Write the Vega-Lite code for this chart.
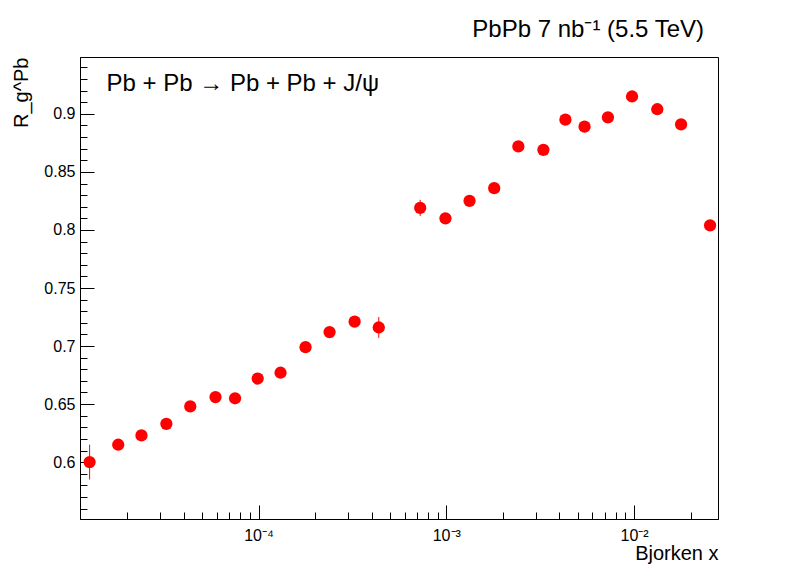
{
  "$schema": "https://vega.github.io/schema/vega-lite/v6.json",
  "autosize": "none",
  "width": 638,
  "height": 462,
  "padding": {"left": 80, "top": 57, "right": 80, "bottom": 57},
  "background": "white",
  "config": {
    "font": "Liberation Sans",
    "view": {"stroke": "black", "strokeWidth": 1}
  },
  "title": {
    "text": "PbPb 7 nb⁻¹ (5.5 TeV)",
    "anchor": "end",
    "fontSize": 24,
    "fontWeight": "normal",
    "font": "Liberation Sans",
    "offset": 15,
    "dx": -14
  },
  "data": {
    "values": [
      {"x": 1.26e-5, "r": 0.600, "lo": 0.585, "hi": 0.615},
      {"x": 1.79e-5, "r": 0.615, "lo": 0.613, "hi": 0.617},
      {"x": 2.38e-5, "r": 0.623, "lo": 0.621, "hi": 0.625},
      {"x": 3.23e-5, "r": 0.633, "lo": 0.631, "hi": 0.635},
      {"x": 4.33e-5, "r": 0.648, "lo": 0.646, "hi": 0.650},
      {"x": 5.9e-5, "r": 0.656, "lo": 0.654, "hi": 0.658},
      {"x": 7.5e-5, "r": 0.655, "lo": 0.653, "hi": 0.657},
      {"x": 9.9e-5, "r": 0.672, "lo": 0.670, "hi": 0.674},
      {"x": 1.31e-4, "r": 0.677, "lo": 0.675, "hi": 0.679},
      {"x": 1.78e-4, "r": 0.699, "lo": 0.697, "hi": 0.701},
      {"x": 2.39e-4, "r": 0.712, "lo": 0.710, "hi": 0.714},
      {"x": 3.25e-4, "r": 0.721, "lo": 0.719, "hi": 0.723},
      {"x": 4.37e-4, "r": 0.716, "lo": 0.707, "hi": 0.725},
      {"x": 7.26e-4, "r": 0.819, "lo": 0.812, "hi": 0.826},
      {"x": 9.9e-4, "r": 0.810, "lo": 0.808, "hi": 0.812},
      {"x": 1.33e-3, "r": 0.825, "lo": 0.823, "hi": 0.827},
      {"x": 1.80e-3, "r": 0.836, "lo": 0.834, "hi": 0.838},
      {"x": 2.42e-3, "r": 0.872, "lo": 0.870, "hi": 0.874},
      {"x": 3.29e-3, "r": 0.869, "lo": 0.867, "hi": 0.871},
      {"x": 4.31e-3, "r": 0.895, "lo": 0.893, "hi": 0.897},
      {"x": 5.45e-3, "r": 0.889, "lo": 0.887, "hi": 0.891},
      {"x": 7.26e-3, "r": 0.897, "lo": 0.895, "hi": 0.899},
      {"x": 9.76e-3, "r": 0.915, "lo": 0.913, "hi": 0.917},
      {"x": 1.33e-2, "r": 0.904, "lo": 0.902, "hi": 0.906},
      {"x": 1.78e-2, "r": 0.891, "lo": 0.889, "hi": 0.893},
      {"x": 2.54e-2, "r": 0.804, "lo": 0.802, "hi": 0.806}
    ]
  },
  "encoding": {
    "x": {
      "field": "x",
      "type": "quantitative",
      "scale": {"type": "log", "domain": [1.12e-5, 0.028], "nice": false},
      "axis": {
        "title": "Bjorken x",
        "titleAnchor": "end",
        "titleFontSize": 20,
        "titleFontWeight": "normal",
        "titlePadding": 0,
        "labelFontSize": 16,
        "labelPadding": 22,
        "grid": false,
        "domainColor": "black",
        "tickColor": "black",
        "values": [2e-5, 3e-5, 4e-5, 5e-5, 6e-5, 7e-5, 8e-5, 9e-5, 1e-4, 2e-4, 3e-4, 4e-4, 5e-4, 6e-4, 7e-4, 8e-4, 9e-4, 1e-3, 2e-3, 3e-3, 4e-3, 5e-3, 6e-3, 7e-3, 8e-3, 9e-3, 1e-2, 2e-2],
        "tickSize": {"condition": {"test": "datum.value == 0.0001 || datum.value == 0.001 || datum.value == 0.01", "value": -14}, "value": -7},
        "labelExpr": "datum.value == 0.0001 ? '10⁻⁴' : datum.value == 0.001 ? '10⁻³' : datum.value == 0.01 ? '10⁻²' : ''"
      }
    },
    "y": {
      "type": "quantitative",
      "scale": {"domain": [0.551, 0.949], "nice": false, "zero": false},
      "axis": {
        "title": "R_g^Pb",
        "titleAnchor": "end",
        "titleFontSize": 20,
        "titleFontWeight": "normal",
        "titlePadding": 12,
        "labelFontSize": 16,
        "labelPadding": 19,
        "grid": false,
        "domainColor": "black",
        "tickColor": "black",
        "values": [0.56, 0.57, 0.58, 0.59, 0.6, 0.61, 0.62, 0.63, 0.64, 0.65, 0.66, 0.67, 0.68, 0.69, 0.7, 0.71, 0.72, 0.73, 0.74, 0.75, 0.76, 0.77, 0.78, 0.79, 0.8, 0.81, 0.82, 0.83, 0.84, 0.85, 0.86, 0.87, 0.88, 0.89, 0.9, 0.91, 0.92, 0.93, 0.94],
        "tickSize": {"condition": {"test": "round(datum.value * 100) % 5 == 0", "value": -14}, "value": -7},
        "labelExpr": "round(datum.value * 100) % 5 == 0 ? format(datum.value, '.2~f') : ''"
      }
    }
  },
  "layer": [
    {
      "mark": {"type": "rule", "color": "red", "strokeWidth": 1},
      "encoding": {"y": {"field": "lo", "type": "quantitative"}, "y2": {"field": "hi"}}
    },
    {
      "mark": {"type": "circle", "color": "red", "opacity": 1, "size": 150},
      "encoding": {"y": {"field": "r", "type": "quantitative"}}
    },
    {
      "data": {"values": [{"x": 1.55e-5, "r": 0.926, "t": "Pb + Pb → Pb + Pb + J/ψ"}]},
      "mark": {"type": "text", "align": "left", "baseline": "middle", "fontSize": 24, "font": "Liberation Sans"},
      "encoding": {"y": {"field": "r", "type": "quantitative"}, "text": {"field": "t"}}
    }
  ]
}
